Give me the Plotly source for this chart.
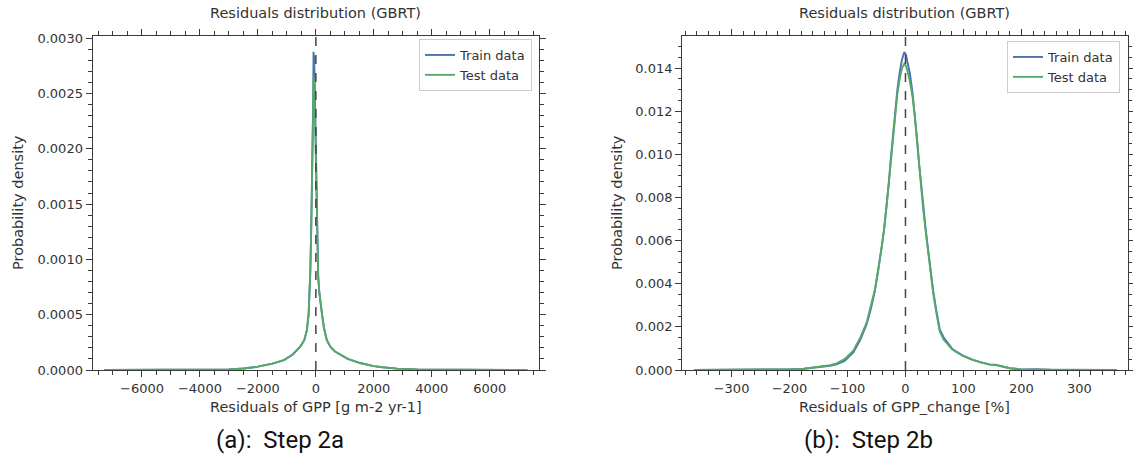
import plotly.graph_objects as go

# ---------------- data ----------------
# Panel (a): residuals of GPP [g m-2 yr-1]
train_a_x = [-7300, -5000, -4000, -3000, -2500, -2000, -1500, -1100, -800, -540, -400, -310,
             -250, -220, -190, -160, -135, -115, -100, -90, -80, -60, -40, -20, 0, 20, 50, 80,
             120, 160, 210, 280, 380, 500, 650, 840, 1100, 1530, 2000, 2300, 2800, 3500, 5000, 7300]
train_a_y = [0.0, 0.0000005, 0.000002, 0.000006, 0.000013, 0.00003, 0.000058, 0.00009, 0.00014,
             0.00021, 0.00027, 0.00036, 0.00050, 0.00066, 0.00090, 0.00127, 0.00160, 0.00187,
             0.00220, 0.00247, 0.002877, 0.00282, 0.00262, 0.00230, 0.00190, 0.00150, 0.00110,
             0.00085, 0.00070, 0.00060, 0.00051, 0.00038, 0.00027, 0.00021, 0.00017, 0.00014,
             0.00010, 0.000063, 0.000035, 0.000025, 0.000012, 0.000004, 0.000001, 0.0]
test_a_x = train_a_x
test_a_y = [0.0, 0.0000005, 0.000002, 0.000006, 0.000013, 0.00003, 0.000058, 0.00009, 0.00014,
            0.00021, 0.00027, 0.00036, 0.00050, 0.00066, 0.00090, 0.00127, 0.00158, 0.00183,
            0.00210, 0.00240, 0.00265, 0.00260, 0.00245, 0.00220, 0.00185, 0.00148, 0.00109,
            0.00085, 0.00070, 0.00060, 0.00051, 0.00038, 0.00027, 0.00021, 0.00017, 0.00014,
            0.00010, 0.000063, 0.000035, 0.000025, 0.000012, 0.000004, 0.000001, 0.0]

# Panel (b): residuals of GPP_change [%]
train_b_x = [-365, -300, -250, -200, -175, -150, -130, -119, -105, -90, -78, -67, -60, -53, -47,
             -41, -37, -33, -29, -26, -22, -18, -14, -10, -6, -2, 1, 4, 7.4, 12, 16, 20, 23.4, 27,
             30.4, 35, 39, 43, 47.6, 53, 59, 66, 73.4, 80, 88, 100, 116.6, 130, 145, 155, 165,
             180, 200, 225, 250, 300, 330, 365]
train_b_y = [0.0, 0.000002, 0.000008, 0.00003, 0.00006, 0.00012, 0.0002, 0.00026, 0.00042,
             0.00082, 0.0014, 0.00212, 0.0028, 0.00365, 0.0046, 0.0057, 0.0065, 0.0075, 0.0086,
             0.0096, 0.0108, 0.0120, 0.0130, 0.0138, 0.0144, 0.01475, 0.0146, 0.0142, 0.0138,
             0.0129, 0.0119, 0.0107, 0.0096, 0.0086, 0.0076, 0.0065, 0.0056, 0.0047, 0.0037,
             0.0028, 0.0019, 0.0015, 0.00124, 0.00100, 0.00085, 0.00065, 0.00047, 0.00035,
             0.00026, 0.00025, 0.00018, 0.00008, 0.00003, 0.00004, 0.00001, 0.000005, 0.00001, 0.0]
test_b_x = train_b_x
test_b_y = [0.0, 0.000002, 0.000008, 0.00003, 0.00006, 0.00013, 0.00022, 0.00031, 0.00050,
            0.00090, 0.0015, 0.00220, 0.0029, 0.00370, 0.0046, 0.0057, 0.0065, 0.0075, 0.0086,
            0.0096, 0.0108, 0.0119, 0.0128, 0.0135, 0.0140, 0.0142, 0.0141, 0.0138, 0.0134,
            0.0127, 0.0118, 0.0106, 0.0095, 0.0085, 0.0075, 0.0064, 0.0055, 0.0046, 0.0036,
            0.0027, 0.0018, 0.0014, 0.00118, 0.00097, 0.00083, 0.00064, 0.00046, 0.00035,
            0.00025, 0.00023, 0.00017, 0.00008, 0.00003, 0.00003, 0.00001, 0.000005, 0.00001, 0.0]

# Tick labels
xticks_a = [-6000, -4000, -2000, 0, 2000, 4000, 6000]
xticklabels_a = ["\u22126000", "\u22124000", "\u22122000", "0", "2000", "4000", "6000"]
yticks_a = [0.0, 0.0005, 0.0010, 0.0015, 0.0020, 0.0025, 0.0030]
yticklabels_a = ["0.0000", "0.0005", "0.0010", "0.0015", "0.0020", "0.0025", "0.0030"]
xticks_b = [-300, -200, -100, 0, 100, 200, 300]
xticklabels_b = ["\u2212300", "\u2212200", "\u2212100", "0", "100", "200", "300"]
yticks_b = [0.0, 0.002, 0.004, 0.006, 0.008, 0.010, 0.012, 0.014]
yticklabels_b = ["0.000", "0.002", "0.004", "0.006", "0.008", "0.010", "0.012", "0.014"]

series_names = ["Train data", "Test data"]
title_text = "Residuals distribution (GBRT)"
ylabel_text = "Probability density"
xlabel_a = "Residuals of GPP [g m-2 yr-1]"
xlabel_b = "Residuals of GPP_change [%]"
caption_a = "(a):  Step 2a"
caption_b = "(b):  Step 2b"

# ---------------- styling ----------------
W, H = 1133, 461
BLUE = "#4C72B0"
GREEN = "#55A868"
AX = "#3a3a3a"
TXT = "#333333"
FONT = "DejaVu Sans"

fig = go.Figure()
fig.add_trace(go.Scatter(x=train_a_x, y=train_a_y, mode="lines", name=series_names[0],
                         line=dict(color=BLUE, width=1.9), xaxis="x", yaxis="y", legend="legend"))
fig.add_trace(go.Scatter(x=test_a_x, y=test_a_y, mode="lines", name=series_names[1],
                         line=dict(color=GREEN, width=1.9), xaxis="x", yaxis="y", legend="legend"))
fig.add_trace(go.Scatter(x=train_b_x, y=train_b_y, mode="lines", name=series_names[0],
                         line=dict(color=BLUE, width=1.9), xaxis="x2", yaxis="y2", legend="legend2"))
fig.add_trace(go.Scatter(x=test_b_x, y=test_b_y, mode="lines", name=series_names[1],
                         line=dict(color=GREEN, width=1.9), xaxis="x2", yaxis="y2", legend="legend2"))


def axis_style(**kw):
    d = dict(showline=True, linecolor=AX, linewidth=1.3, mirror="ticks", ticks="outside",
             ticklen=6, tickwidth=1.3, tickcolor=AX, showgrid=False, zeroline=False,
             layer="above traces",
             tickfont=dict(family=FONT, size=13, color=TXT), tickmode="array")
    d.update(kw)
    return d


ydom = [1 - 370 / H, 1 - 36 / H]
fig.update_layout(
    width=W, height=H, margin=dict(l=0, r=0, t=0, b=0),
    paper_bgcolor="white", plot_bgcolor="white", template="none",
    xaxis=axis_style(domain=[92.7 / W, 539 / W], range=[-7700, 7700], anchor="y",
                     tickvals=xticks_a, ticktext=xticklabels_a,
                     minor=dict(tickmode="linear", tick0=0, dtick=500, ticklen=3.5, tickwidth=1,
                                tickcolor=AX, ticks="outside")),
    yaxis=axis_style(domain=ydom, range=[0, 0.00302], anchor="x",
                     tickvals=yticks_a, ticktext=yticklabels_a,
                     minor=dict(tickmode="linear", tick0=0, dtick=0.0001, ticklen=3.5, tickwidth=1,
                                tickcolor=AX, ticks="outside")),
    xaxis2=axis_style(domain=[682.3 / W, 1127.5 / W], range=[-385, 383], anchor="y2",
                      tickvals=xticks_b, ticktext=xticklabels_b,
                      minor=dict(tickmode="linear", tick0=0, dtick=20, ticklen=3.5, tickwidth=1,
                                 tickcolor=AX, ticks="outside")),
    yaxis2=axis_style(domain=ydom, range=[0, 0.01549], anchor="x2",
                      tickvals=yticks_b, ticktext=yticklabels_b,
                      minor=dict(tickmode="linear", tick0=0, dtick=0.0005, ticklen=3.5, tickwidth=1,
                                 tickcolor=AX, ticks="outside")),
    legend=dict(x=532 / W, y=1 - 39 / H, xanchor="right", yanchor="top",
                bgcolor="rgba(255,255,255,0.85)", bordercolor="#cccccc", borderwidth=1,
                font=dict(family=FONT, size=13, color=TXT), itemwidth=30),
    legend2=dict(x=1120 / W, y=1 - 41 / H, xanchor="right", yanchor="top",
                 bgcolor="rgba(255,255,255,0.85)", bordercolor="#cccccc", borderwidth=1,
                 font=dict(family=FONT, size=13, color=TXT), itemwidth=30),
    showlegend=True,
)

# vertical dashed lines at zero residual
for xr, yr in (("x", "y domain"), ("x2", "y2 domain")):
    fig.add_shape(type="line", x0=0, x1=0, y0=0, y1=1, xref=xr, yref=yr,
                  line=dict(color="#444444", width=1.5, dash="dash"))

ann_font = dict(family=FONT, size=14.5, color=TXT)
cx_a = (92.7 + 539) / 2 / W
cx_b = (682.3 + 1127.5) / 2 / W
ymid = 1 - 203 / H
annotations = [
    dict(text=title_text, x=cx_a, y=1 - 13 / H),
    dict(text=title_text, x=cx_b, y=1 - 13 / H),
    dict(text=xlabel_a, x=cx_a, y=1 - 407 / H),
    dict(text=xlabel_b, x=cx_b, y=1 - 407 / H),
    dict(text=ylabel_text, x=18 / W, y=ymid, textangle=-90),
    dict(text=ylabel_text, x=617 / W, y=ymid, textangle=-90),
]
for a in annotations:
    fig.add_annotation(xref="paper", yref="paper", xanchor="center", yanchor="middle",
                       showarrow=False, font=ann_font, **a)

cap_font = dict(family="Roboto", size=24, color="#111111")
fig.add_annotation(text=caption_a, x=280 / W, y=1 - 440 / H, xref="paper", yref="paper",
                   xanchor="center", yanchor="middle", showarrow=False, font=cap_font)
fig.add_annotation(text=caption_b, x=868 / W, y=1 - 440 / H, xref="paper", yref="paper",
                   xanchor="center", yanchor="middle", showarrow=False, font=cap_font)

fig.write_html("out.html", config={"displayModeBar": False},
               post_script="document.body.style.margin='0';")
